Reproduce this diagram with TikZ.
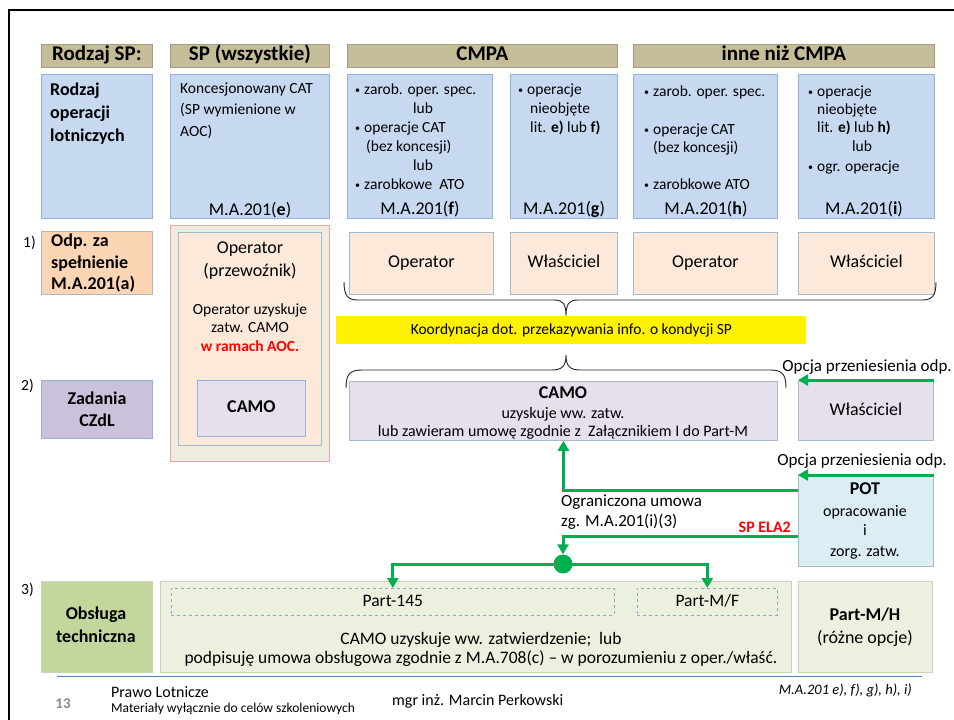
\documentclass[tikz,border=0pt]{standalone}
\usepackage{fontspec}
\setmainfont{Carlito}
\usetikzlibrary{arrows.meta}
\definecolor{hdrf}{HTML}{C4BD97}
\definecolor{hdrb}{HTML}{A39D82}
\definecolor{bluef}{HTML}{C6D9F1}
\definecolor{blueb}{HTML}{95B3D7}
\definecolor{orf}{HTML}{FCD5B5}
\definecolor{pchf}{HTML}{FDE9D9}
\definecolor{grayb}{HTML}{A9B9CC}
\definecolor{spf}{HTML}{EEECE1}
\definecolor{spb}{HTML}{F2A2A2}
\definecolor{lavf}{HTML}{E5E0EC}
\definecolor{purf}{HTML}{CCC1DA}
\definecolor{potf}{HTML}{DBEEF4}
\definecolor{grnf}{HTML}{C3D69B}
\definecolor{lgrf}{HTML}{EBF1DE}
\definecolor{lgrb}{HTML}{C9D3BC}
\definecolor{arr}{HTML}{00B050}
\definecolor{redt}{HTML}{FF0000}
\definecolor{footl}{HTML}{4F81BD}
\definecolor{numg}{HTML}{8C8C8C}
\definecolor{dashb}{HTML}{8FA9C2}
\newcommand{\blt}{\makebox[9pt][l]{\raisebox{0.5pt}{\fontsize{10}{10}\selectfont •}}}
\begin{document}
\begin{tikzpicture}[x=1pt,y=-1pt,
  bx/.style={anchor=north west, inner sep=0pt, line width=0.8pt},
  hdr/.style={bx, draw=hdrb, fill=hdrf, minimum height=23pt, font=\fontsize{21}{24}\selectfont\bfseries, text height=14pt, text depth=4pt},
  blu/.style={bx, draw=blueb, fill=bluef, minimum height=144pt},
  rone/.style={bx, draw=grayb, fill=pchf, minimum height=62pt, font=\fontsize{18}{21}\selectfont, text height=12.5pt, text depth=3.5pt},
  lav/.style={bx, draw=grayb, fill=lavf},
  dbox/.style={bx, draw=dashb, dashed, line width=0.6pt, minimum height=27pt, font=\fontsize{17.5}{20}\selectfont, text height=12pt, text depth=3.3pt},
  t/.style={inner sep=0pt, text height=11pt, text depth=3pt, font=\fontsize{15.5}{18}\selectfont},
  tc/.style={inner sep=0pt, text height=11pt, text depth=3pt, font=\fontsize{16}{19}\selectfont},
  tg/.style={inner sep=0pt, text height=12pt, text depth=3.3pt, font=\fontsize{17.5}{20}\selectfont},
  tb/.style={inner sep=0pt, text height=12.5pt, text depth=3.5pt, font=\fontsize{18}{21}\selectfont\bfseries},
  tm/.style={inner sep=0pt, text height=12.5pt, text depth=3.5pt, font=\fontsize{18}{21}\selectfont},
  tk/.style={inner sep=0pt, text height=12pt, text depth=3.3pt, font=\fontsize{17}{20}\selectfont},
  garr/.style={draw=arr, line width=3pt, -{Triangle[length=10pt,width=11pt]}},
  brc/.style={draw=black!85, line width=0.9pt}
]
\useasboundingbox (0,0) rectangle (954,720);
\fill[white] (0,0) rectangle (954,720);
% frame
\draw[line width=2.5pt] (9,720) -- (9,10) -- (954,10);

% headers
\node[hdr, minimum width=111pt] (h1) at (41,44) {Rodzaj SP:};
\node[hdr, minimum width=159pt] (h2) at (170,44) {SP (wszystkie)};
\node[hdr, minimum width=270pt] (h3) at (347,44) {CMPA};
\node[hdr, minimum width=301pt] (h4) at (633,44) {inne niż CMPA};

% blue boxes
\node[blu, minimum width=111pt] (b1) at (41,74) {};
\node[blu, minimum width=159pt] (b2) at (170,74) {};
\node[blu, minimum width=145pt] (b3) at (347,74) {};
\node[blu, minimum width=107pt] (b4) at (510,74) {};
\node[blu, minimum width=144pt] (b5) at (633,74) {};
\node[blu, minimum width=136pt] (b6) at (798,74) {};

\node[tb, anchor=west] (b1a) at (50,91) {Rodzaj};
\node[tb, anchor=west] (b1b) at (50,114) {operacji};
\node[tb, anchor=west] (b1c) at (50,137) {lotniczych};

\node[t, anchor=west] (b2a) at (180,89) {Koncesjonowany CAT};
\node[t, anchor=west] (b2b) at (180,110) {(SP wymienione w};
\node[t, anchor=west] (b2c) at (180,132) {AOC)};
\node[tm] (b2m) at (250,211) {M.A.201(\textbf{e})};

\node[t, anchor=west] (b3a) at (355,90) {\blt zarob. oper. spec.};
\node[t] (b3b) at (423,109) {lub};
\node[t, anchor=west] (b3c) at (355,128) {\blt operacje CAT};
\node[t, anchor=west] (b3d) at (366,147) {(bez koncesji)};
\node[t] (b3e) at (423,166) {lub};
\node[t, anchor=west] (b3f) at (355,185) {\blt zarobkowe\ \ ATO};
\node[tm] (b3m) at (420,210) {M.A.201(\textbf{f})};

\node[t, anchor=west] (b4a) at (518,90) {\blt operacje};
\node[t, anchor=west] (b4b) at (530,109) {nieobjęte};
\node[t, anchor=west] (b4c) at (530,128) {lit. \textbf{e)} lub \textbf{f)}};
\node[tm] (b4m) at (564,210) {M.A.201(\textbf{g})};

\node[t, anchor=west] (b5a) at (644,92) {\blt zarob. oper. spec.};
\node[t, anchor=west] (b5b) at (644,130) {\blt operacje CAT};
\node[t, anchor=west] (b5c) at (653,148) {(bez koncesji)};
\node[t, anchor=west] (b5d) at (644,185) {\blt zarobkowe ATO};
\node[tm] (b5m) at (706,210) {M.A.201(\textbf{h})};

\node[t, anchor=west] (b6a) at (808,92) {\blt operacje};
\node[t, anchor=west] (b6b) at (817,110) {nieobjęte};
\node[t, anchor=west] (b6c) at (817,128) {lit. \textbf{e)} lub \textbf{h)}};
\node[t] (b6d) at (862,147) {lub};
\node[t, anchor=west] (b6e) at (808,167) {\blt ogr. operacje};
\node[tm] (b6m) at (864,210) {M.A.201(\textbf{i})};

% row 1
\node[t, anchor=west] (n1) at (23,243) {1)};
\node[bx, draw=grayb, fill=orf, minimum width=111pt, minimum height=63pt] (odp) at (41,231) {};
\node[tb, anchor=west] (odpa) at (51,242) {Odp. za};
\node[tb, anchor=west] (odpb) at (51,264) {spełnienie};
\node[tb, anchor=west] (odpc) at (51,285) {M.A.201(a)};

\node[bx, draw=spb, fill=spf, minimum width=159pt, minimum height=236pt] (spo) at (170,225) {};
\node[bx, draw=grayb, fill=pchf, minimum width=143pt, minimum height=213pt] (spi) at (178,232) {};
\node[bx, draw=blueb, fill=lavf, minimum width=108pt, minimum height=56pt, font=\fontsize{18}{21}\selectfont\bfseries, text height=12.5pt, text depth=3.5pt] (spc) at (197,380) {CAMO};
\node[tm] (spa) at (250,249) {Operator};
\node[tm] (spb2) at (250,272) {(przewoźnik)};
\node[t] (spd) at (250,310) {Operator uzyskuje};
\node[t] (spe) at (250,328) {zatw. CAMO};
\node[t, text=redt, font=\fontsize{15.5}{18}\selectfont\bfseries] (spf2) at (250,347) {w ramach AOC.};

\node[rone, minimum width=144pt] (r1a) at (349,232) {Operator};
\node[rone, minimum width=107pt] (r1b) at (510,232) {Właściciel};
\node[rone, minimum width=144pt] (r1c) at (633,232) {Operator};
\node[rone, minimum width=136pt] (r1d) at (798,232) {Właściciel};

% brace under row 1
\draw[brc] (344,282) .. controls (344,296) and (348,300) .. (358,300) -- (554,300)
  .. controls (563,300) and (566,304) .. (566,316)
  .. controls (566,304) and (569,300) .. (578,300) -- (922,300)
  .. controls (932,300) and (936,296) .. (936,282);

% yellow
\node[bx, fill=yellow, minimum width=470pt, minimum height=28pt, font=\fontsize{15.5}{18}\selectfont, text height=11pt, text depth=3pt] (koord) at (336,316) {Koordynacja dot. przekazywania info. o kondycji SP};

% brace above CAMO
\draw[brc] (346,388) .. controls (346,374) and (350,370) .. (362,370) -- (552,370)
  .. controls (562,370) and (566,366) .. (566,355)
  .. controls (566,366) and (570,370) .. (580,370) -- (770,370)
  .. controls (782,370) and (786,374) .. (786,388);

% row 2
\node[t, anchor=west] (n2) at (21,386) {2)};
\node[bx, draw=blueb, fill=purf, minimum width=111pt, minimum height=58pt] (zad) at (41,380) {};
\node[tb] (zada) at (97,400) {Zadania};
\node[tb] (zadb) at (97,422) {CZdL};

\node[lav, minimum width=428pt, minimum height=59pt] (camo2) at (349,381) {};
\node[tb] (camoa) at (563,394) {CAMO};
\node[tc] (camob) at (563,414) {uzyskuje ww. zatw.};
\node[tc] (camoc) at (563,432) {lub zawieram umowę zgodnie z\ \ Załącznikiem I do Part-M};

\node[lav, minimum width=135pt, minimum height=59pt, font=\fontsize{18}{21}\selectfont, text height=12.5pt, text depth=3.5pt] (wl2) at (798,381) {Właściciel};

\node[tk, anchor=east] (opt1) at (952,367) {Opcja przeniesienia odp.};
\coordinate (o1) at (934,380);
\draw[garr] (o1) -- (o1 -| wl2.west);

% POT
\node[bx, draw=grayb, fill=potf, minimum width=135pt, minimum height=92pt] (pot) at (798,474) {};
\node[tb] (pota) at (865,490) {POT};
\node[tc] (potb) at (865,512) {opracowanie};
\node[tc] (potc) at (865,531) {i};
\node[tc] (potd) at (865,552) {zorg. zatw.};

\node[tk, anchor=east] (opt2) at (947,461) {Opcja przeniesienia odp.};
\coordinate (o2) at (934,475);
\draw[garr] (o2) -- (o2 -| pot.west);

\node[tk, anchor=west] (ogra) at (561,502) {Ograniczona umowa};
\node[tk, anchor=west] (ogrb) at (561,522) {zg. M.A.201(i)(3)};
\node[tc, anchor=east, text=redt, font=\fontsize{16}{19}\selectfont\bfseries] (ela) at (791,528) {SP ELA2};

% row 3
\node[t, anchor=west] (n3) at (21,590) {3)};
\node[bx, draw=lgrb, fill=grnf, minimum width=111pt, minimum height=91pt] (obs) at (41,581) {};
\node[tb] (obsa) at (96,615) {Obsługa};
\node[tb] (obsb) at (96,638) {techniczna};

\node[bx, draw=lgrb, fill=lgrf, minimum width=631pt, minimum height=91pt] (big) at (160,581) {};
\node[dbox, minimum width=443pt] (p145) at (171,588) {Part-145};
\node[dbox, minimum width=140pt] (pmf) at (637,588) {Part-M/F};
\node[tg] (biga) at (481,640) {CAMO uzyskuje ww. zatwierdzenie;\ \ lub};
\node[tg] (bigb) at (481,659) {podpisuję umowa obsługowa zgodnie z M.A.708(c) – w porozumieniu z oper./właść.};

\node[bx, draw=lgrb, fill=lgrf, minimum width=134pt, minimum height=91pt] (pmh) at (798,581) {};
\node[tb] (pmha) at (865,616) {Part-M/H};
\node[tm] (pmhb) at (865,639) {(różne opcje)};

% green connectors
\node[circle, fill=arr, minimum size=19pt, inner sep=0pt] (junc) at (563,564) {};
\draw[garr] ([yshift=-16pt]pot.north west) -| (camo2.south);
\draw[garr] ([yshift=-62pt]pot.north west) -| (junc.north);
\draw[garr] (junc.center) -| (p145.north);
\draw[garr] (junc.center) -| (pmf.north);

% footer
\draw[footl, line width=1pt] (57,676) -- (922,676);
\node[inner sep=0pt, text=numg, font=\fontsize{15}{17}\selectfont\bfseries] (pg) at (63,704) {13};
\node[inner sep=0pt, anchor=west, font=\fontsize{16}{18}\selectfont] (fa) at (111,692) {Prawo Lotnicze};
\node[inner sep=0pt, anchor=west, font=\fontsize{13.5}{15}\selectfont] (fb) at (111,709) {Materiały wyłącznie do celów szkoleniowych};
\node[inner sep=0pt, anchor=west, font=\fontsize{16}{18}\selectfont] (fc) at (392,701) {mgr inż. Marcin Perkowski};
\node[inner sep=0pt, anchor=east, font=\fontsize{14.5}{17}\selectfont\itshape] (fd) at (912,690) {M.A.201 e), f), g), h), i)};
\end{tikzpicture}
\end{document}
